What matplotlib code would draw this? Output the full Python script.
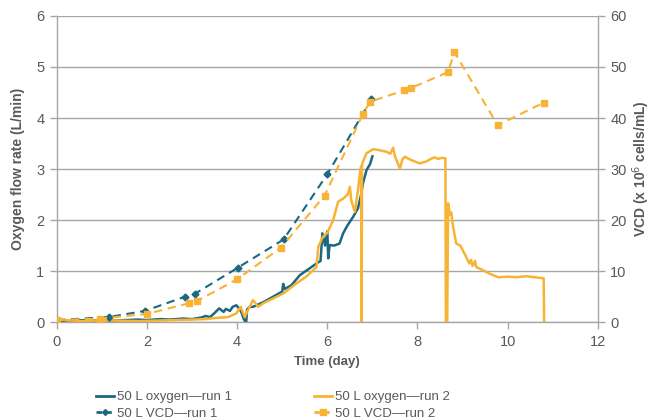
import matplotlib
matplotlib.use("Agg")
import matplotlib.pyplot as plt
from matplotlib.lines import Line2D

plt.rcParams['font.family'] = ['Liberation Sans', 'DejaVu Sans']

TEAL = '#1a6882'
ORANGE = '#f8b334'
GRID = '#a6a6a6'
TXT = '#595959'

# Oxygen flow rate, run 1 (L/min)
o2_run1_day = [0.0, 0.3, 0.5, 0.8, 1.0, 1.2, 1.5, 1.8, 2.0, 2.3, 2.5, 2.8, 3.0, 3.2, 3.3,
               3.4, 3.5, 3.6, 3.7, 3.75, 3.84, 3.9, 3.98, 4.05, 4.1, 4.15, 4.2, 4.22, 4.28,
               4.35, 4.43, 4.6, 4.8, 5.0, 5.02, 5.05, 5.2, 5.39, 5.6, 5.76, 5.85, 5.89,
               5.95, 6.0, 6.02, 6.05, 6.15, 6.27, 6.35, 6.45, 6.57, 6.68, 6.75, 6.79,
               6.87, 6.95, 7.0]
o2_run1 = [0.03, 0.02, 0.04, 0.03, 0.05, 0.03, 0.04, 0.05, 0.04, 0.06, 0.05, 0.07, 0.06,
           0.09, 0.12, 0.10, 0.18, 0.27, 0.20, 0.26, 0.22, 0.30, 0.33, 0.26, 0.18, 0.05,
           0.0, 0.25, 0.30, 0.30, 0.33, 0.40, 0.50, 0.60, 0.75, 0.65, 0.72, 0.92, 1.05,
           1.15, 1.20, 1.74, 1.50, 1.78, 1.25, 1.51, 1.50, 1.54, 1.74, 1.90, 2.06, 2.23,
           2.50, 2.72, 2.98, 3.10, 3.25]

# Oxygen flow rate, run 2 (L/min)
o2_run2_day = [0.0, 0.3, 0.6, 1.0, 1.4, 1.8, 2.2, 2.6, 3.0, 3.3, 3.5, 3.8, 3.98, 4.08,
               4.12, 4.17, 4.22, 4.35, 4.4, 4.46, 4.6, 4.72, 5.02, 5.3, 5.53, 5.76, 5.8,
               5.9, 6.0, 6.13, 6.24, 6.35, 6.45, 6.5, 6.53, 6.61, 6.68, 6.72, 6.75, 6.76,
               6.77, 6.87, 7.02, 7.15, 7.31, 7.4, 7.46, 7.5, 7.61, 7.67, 7.72, 7.85, 8.05,
               8.2, 8.3, 8.38, 8.45, 8.55, 8.62, 8.63, 8.66, 8.68, 8.72, 8.75, 8.79, 8.86,
               8.95, 9.08, 9.15, 9.19, 9.22, 9.28, 9.3, 9.45, 9.6, 9.79, 10.0, 10.2, 10.41,
               10.6, 10.8, 10.81]
o2_run2 = [0.05, 0.03, 0.02, 0.04, 0.03, 0.02, 0.03, 0.04, 0.05, 0.06, 0.08, 0.10, 0.17,
           0.30, 0.20, 0.10, 0.20, 0.43, 0.38, 0.30, 0.38, 0.43, 0.56, 0.75, 0.89, 1.08,
           1.48, 1.67, 1.75, 2.00, 2.36, 2.42, 2.50, 2.65, 2.39, 2.16, 2.59, 2.90, 3.05,
           0.0, 3.10, 3.31, 3.39, 3.37, 3.34, 3.30, 3.42, 3.25, 3.01, 3.20, 3.24, 3.18,
           3.11, 3.15, 3.20, 3.23, 3.20, 3.22, 3.21, 0.0, 0.0, 2.33, 2.10, 2.15, 1.87,
           1.54, 1.50, 1.28, 1.15, 1.22, 1.10, 1.20, 1.08, 1.02, 0.95, 0.88, 0.89, 0.88,
           0.90, 0.88, 0.86, 0.0]

# Viable cell density (x 10^6 cells/mL)
vcd_run1_day = [0.0, 1.15, 1.95, 2.85, 3.07, 4.02, 5.03, 6.0, 6.98]
vcd_run1 = [0.4, 1.0, 2.2, 5.0, 5.6, 10.7, 16.2, 29.0, 43.7]
vcd_run2_day = [0.0, 0.95, 1.99, 2.93, 3.1, 4.0, 4.97, 5.94, 6.79, 6.95, 7.7, 7.86,
                8.68, 8.82, 9.78, 10.8]
vcd_run2 = [0.4, 0.7, 1.6, 3.7, 4.1, 8.4, 14.6, 24.8, 40.8, 43.2, 45.4, 45.9, 49.0,
            52.9, 38.6, 43.0]

x_ticks = [0, 2, 4, 6, 8, 10, 12]
y_left_ticks = [0, 1, 2, 3, 4, 5, 6]
y_right_ticks = [0, 10, 20, 30, 40, 50, 60]

fig = plt.figure(figsize=(6.54, 4.2), dpi=100)
ax = fig.add_axes([0.087, 0.233, 0.827, 0.729])
ax2 = ax.twinx()

ax.plot(o2_run1_day, o2_run1, color=TEAL, lw=1.8, solid_joinstyle='round', zorder=3)
ax.plot(o2_run2_day, o2_run2, color=ORANGE, lw=1.8, solid_joinstyle='round', zorder=4)
ax2.plot(vcd_run1_day, vcd_run1, color=TEAL, lw=1.5, ls=(0, (4, 2.7)), marker='D',
         ms=3.5, zorder=3)
ax2.plot(vcd_run2_day, vcd_run2, color=ORANGE, lw=1.5, ls=(0, (4, 2.7)), marker='s',
         ms=5, zorder=4)

ax.set_xlim(0, 12)
ax.set_ylim(0, 6)
ax2.set_ylim(0, 60)
ax.set_xticks(x_ticks)
ax.set_yticks(y_left_ticks)
ax2.set_yticks(y_right_ticks)
ax.grid(axis='y', color=GRID, lw=1)
ax.set_axisbelow(True)

for a in (ax, ax2):
    a.spines['top'].set_visible(False)
    for s in ('left', 'right', 'bottom'):
        a.spines[s].set_color(GRID)
        a.spines[s].set_linewidth(1)
    a.tick_params(colors=GRID, labelcolor=TXT, labelsize=10.5, length=5, width=1,
                  direction='out', pad=4)
ax.spines['right'].set_visible(False)
ax2.spines['left'].set_visible(False)
ax2.spines['bottom'].set_visible(False)

ax.set_xlabel('Time (day)', fontsize=9.5, fontweight='bold', color=TXT, labelpad=5)
ax.set_ylabel('Oxygen flow rate (L/min)', fontsize=10, fontweight='bold', color=TXT,
              labelpad=8)
ax2.set_ylabel('VCD (x 10$^6$ cells/mL)', fontsize=10, fontweight='bold', color=TXT,
               labelpad=3)

handles = [
    Line2D([], [], color=TEAL, lw=2),
    Line2D([], [], color=TEAL, lw=2, ls=(0, (2, 1.5)), marker='D', ms=3),
    Line2D([], [], color=ORANGE, lw=2),
    Line2D([], [], color=ORANGE, lw=2, ls=(0, (2, 1.5)), marker='s', ms=4.5),
]
labels = ['50 L oxygen\u2014run 1', '50 L VCD\u2014run 1',
          '50 L oxygen\u2014run 2', '50 L VCD\u2014run 2']
leg = fig.legend(handles, labels, ncol=2, loc='center', bbox_to_anchor=(0.417, 0.035),
                 frameon=False, fontsize=9.5, handlelength=1.4, handletextpad=0.2,
                 columnspacing=6.2, labelspacing=0.3, labelcolor=TXT)

fig.savefig('out.png', dpi=100)
